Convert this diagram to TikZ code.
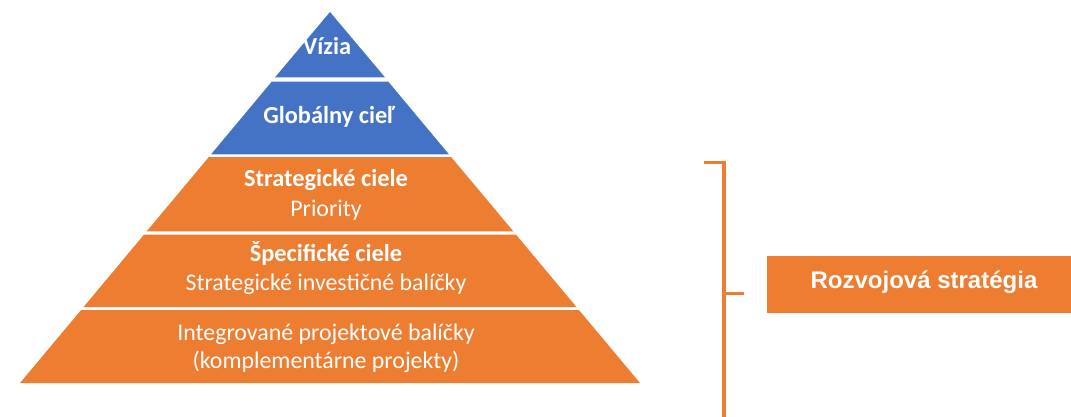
\documentclass[tikz,border=0pt]{standalone}
\usepackage{fontspec}
\setmainfont{Carlito}
\newfontfamily\arialfont{Liberation Sans}
\definecolor{pblue}{HTML}{4472C4}
\definecolor{porange}{HTML}{ED7D31}
\begin{document}
\begin{tikzpicture}[x=0.75pt,y=-0.75pt,
  layerblue/.style={fill=pblue,draw=none},
  layerorange/.style={fill=porange,draw=none},
  ptxt/.style={text=white,anchor=base,inner sep=0pt,font=\fontsize{17.9pt}{21pt}\selectfont},
  btxt/.style={ptxt,font=\fontsize{18.3pt}{21pt}\selectfont\bfseries},
  brack/.style={draw=porange,line width=2.6pt}]
\useasboundingbox (0,0) rectangle (1071,417);
% pyramid layers
\fill[layerblue] (330,12) -- (385.1,77.5) -- (274.9,77.5) -- cycle;
\fill[layerblue] (271.7,81.7) -- (388.3,81.7) -- (448.9,154.3) -- (211.1,154.3) -- cycle;
\fill[layerorange] (208.7,157.2) -- (451.3,157.2) -- (513.3,231.3) -- (146.7,231.3) -- cycle;
\fill[layerorange] (144.1,234.5) -- (515.9,234.5) -- (576.6,307.2) -- (83.4,307.2) -- cycle;
\fill[layerorange] (81.1,310.0) -- (578.9,310.0) -- (640,383) -- (20,383) -- cycle;
% texts
\node[btxt] (vizia) at (327,54.3) {Vízia};
\node[btxt] (glob) at (329,124) {Globálny cieľ};
\node[btxt] (strat) at (326,186.7) {Strategické ciele};
\node[ptxt] (prior) at (326,216) {Priority};
\node[btxt] (spec) at (326,261.7) {Špecifické ciele};
\node[ptxt] (sib) at (326,290.7) {Strategické investičné balíčky};
\node[ptxt] (ipb) at (326,340.7) {Integrované projektové balíčky};
\node[ptxt] (komp) at (326,368.3) {(komplementárne projekty)};
% bracket
\coordinate (btl) at (704,162.3);
\coordinate (btr) at (724,162.3);
\coordinate (bbot) at (724,420);
\coordinate (bmid) at (724,293.3);
\coordinate (bstub) at (744,293.3);
\draw[brack] (btl) -- (btr) -- (bbot);
\draw[brack] (bmid) -- (bstub);
% strategy box
\fill[porange] (767,256) rectangle (1071,313.3);
\node[text=white,anchor=base,inner sep=0pt,font=\arialfont\bfseries\fontsize{18pt}{21pt}\selectfont] (rs) at (924,288.3) {Rozvojová stratégia};
\end{tikzpicture}
\end{document}
